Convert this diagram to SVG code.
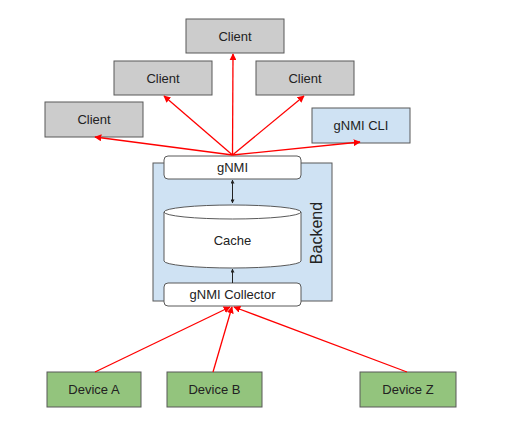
<svg xmlns="http://www.w3.org/2000/svg" width="516" height="434" viewBox="0 0 516 434">
<defs>
<style>
text{font-family:"Liberation Sans",Arial,sans-serif;font-size:13px;fill:#222;text-anchor:middle}
.client{fill:#cccccc;stroke:#595959;stroke-width:1}
.cli{fill:#cfe2f3;stroke:#595959;stroke-width:1}
.dev{fill:#93c47d;stroke:#595959;stroke-width:1}
.wb{fill:#ffffff;stroke:#595959;stroke-width:1}
.red{stroke:#ff0000;stroke-width:1.3;fill:none;marker-end:url(#rh)}
.blk{stroke:#222;stroke-width:1;fill:none}
</style>
<marker id="rh" viewBox="0 0 10 10" refX="9" refY="5" markerWidth="7" markerHeight="7" markerUnits="userSpaceOnUse" orient="auto"><path d="M0,0 L10,5 L0,10 z" fill="#ff0000"/></marker>
<marker id="bh" viewBox="0 0 10 10" refX="9" refY="5" markerWidth="4" markerHeight="4" markerUnits="userSpaceOnUse" orient="auto-start-reverse"><path d="M0,0 L10,5 L0,10 z" fill="#222"/></marker>
</defs>
<rect width="516" height="434" fill="#ffffff"/>
<g id="backend">
<rect x="153" y="163" width="179" height="138" fill="#cfe2f3" stroke="#595959" stroke-width="1"/>
<text x="0" y="0" transform="translate(322,233) rotate(-90)" style="font-size:16px">Backend</text>
</g>
<g id="client-top"><rect class="client" x="186" y="19" width="98" height="34"/><text x="235" y="41">Client</text></g>
<g id="client-left-mid"><rect class="client" x="114" y="61" width="98" height="34"/><text x="163" y="83">Client</text></g>
<g id="client-right-mid"><rect class="client" x="256" y="61" width="98" height="34"/><text x="305" y="83">Client</text></g>
<g id="client-left"><rect class="client" x="45" y="102" width="98" height="35"/><text x="94" y="124">Client</text></g>
<g id="gnmi-cli"><rect class="cli" x="312" y="108" width="98" height="35"/><text x="361" y="130">gNMI CLI</text></g>
<g id="gnmi"><rect class="wb" x="164" y="156" width="137" height="23" rx="4"/><text x="232.5" y="172">gNMI</text></g>
<g id="cache">
<path class="wb" d="M164,212 L164,261 A68.5,7 0 0 0 301,261 L301,212 A68.5,7 0 0 0 164,212 A68.5,7 0 0 0 301,212"/>
<text x="232.5" y="245">Cache</text>
</g>
<g id="gnmi-collector"><rect class="wb" x="164" y="283" width="137" height="23" rx="4"/><text x="232.5" y="299">gNMI Collector</text></g>
<g id="device-a"><rect class="dev" x="47" y="372" width="94" height="35"/><text x="94" y="394">Device A</text></g>
<g id="device-b"><rect class="dev" x="167" y="372" width="95" height="35"/><text x="214.5" y="394">Device B</text></g>
<g id="device-z"><rect class="dev" x="360" y="372" width="96" height="35"/><text x="408" y="394">Device Z</text></g>
<g id="connectors">
<line class="red" x1="232.5" y1="155" x2="233" y2="54"/>
<line class="red" x1="232.5" y1="155" x2="164" y2="96"/>
<line class="red" x1="232.5" y1="155" x2="304" y2="96"/>
<line class="red" x1="232.5" y1="155" x2="95" y2="137"/>
<line class="red" x1="232.5" y1="155" x2="360" y2="142"/>
<line class="red" x1="95" y1="372" x2="230" y2="307"/>
<line class="red" x1="213" y1="372" x2="232" y2="307"/>
<line class="red" x1="407" y1="372" x2="234" y2="307"/>
<line class="blk" x1="232.5" y1="180" x2="232.5" y2="203" marker-start="url(#bh)" marker-end="url(#bh)"/>
<line class="blk" x1="232.5" y1="283" x2="232.5" y2="269" marker-end="url(#bh)"/>
</g>
</svg>
